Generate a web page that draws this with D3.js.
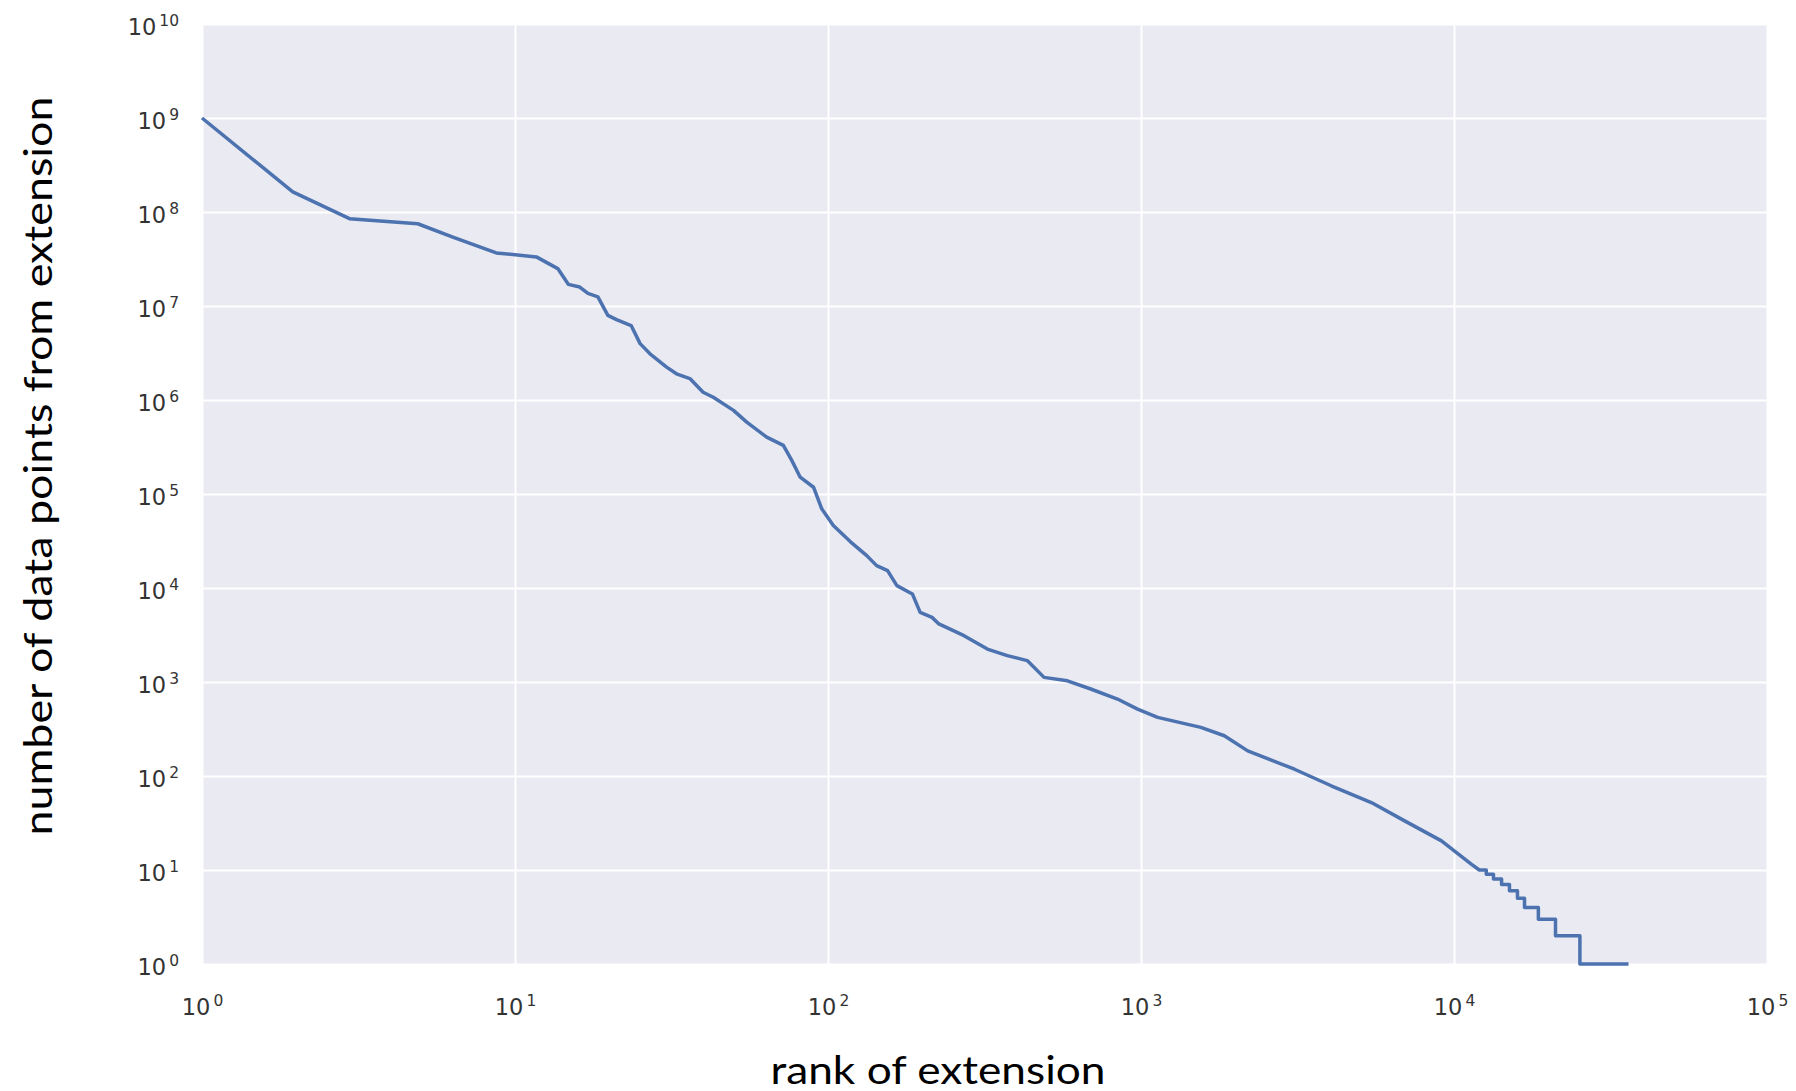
<!DOCTYPE html>
<html><head><meta charset="utf-8">
<script src="https://cdn.jsdelivr.net/npm/d3@7"></script>
<style>body{margin:0;background:#fff}</style></head>
<body>
<svg id="c" width="1796" height="1091"></svg>
<script>
// ---- data (rank of extension vs. number of data points) ----
const ranks = [1, 1.95, 2.96, 4.89, 6.33, 8.71, 11.7, 13.7, 14.8, 16.1, 17.1, 18.4, 19.8, 21.1, 23.5, 25.1, 27.0, 30.5,
  32.8, 36.2, 39.9, 43.0, 49.9, 55.0, 63.7, 72.0, 76.6, 81.5, 89.9, 95.5, 104, 118, 133, 143, 155, 166, 186, 197,
  215, 226, 272, 323, 374, 433, 490, 582, 691, 841, 975, 1130, 1553, 1846, 2193, 3093, 4053, 5445, 6955, 9120, 11380,
  12050, 12680, 12680, 13370, 13370, 14190, 14190, 15040, 15040, 15950, 15950, 16800, 16800, 18600, 18600, 21100,
  21100, 25250, 25250, 36100];
const counts = [1e9, 1.64e8, 8.5e7, 7.5e7, 5.4e7, 3.67e7, 3.33e7, 2.5e7, 1.7e7, 1.59e7, 1.36e7, 1.25e7, 7.96e6, 7.16e6,
  6.2e6, 3.98e6, 3.1e6, 2.24e6, 1.9e6, 1.69e6, 1.21e6, 1.07e6, 7.75e5, 5.82e5, 4.03e5, 3.29e5, 2.28e5, 1.51e5, 1.18e5,
  6.96e4, 4.62e4, 3.1e4, 2.21e4, 1.73e4, 1.53e4, 1.06e4, 8650, 5500, 4870, 4150, 3110, 2240, 1910, 1690, 1120, 1030,
  842, 659, 515, 420, 329, 268, 185, 118, 78.7, 52.2, 33.3, 20.4, 11.5,
  10, 10, 9, 9, 8, 8, 7, 7, 6, 6, 5, 5, 4, 4, 3, 3, 2, 2, 1, 1];
const xTickExponents = [0, 1, 2, 3, 4, 5];
const yTickExponents = [0, 1, 2, 3, 4, 5, 6, 7, 8, 9, 10];
const xTitle = "rank of extension";
const yTitle = "number of data points from extension";

// ---- layout ----
const L = 202, R = 1767, T = 24, B = 964;
const svg = d3.select("#c");
const x = d3.scaleLog().domain([1, 1e5]).range([L, R]);
const y = d3.scaleLog().domain([1, 1e10]).range([B, T]);

svg.append("rect").attr("x", L).attr("y", T).attr("width", R - L).attr("height", B - T).attr("fill", "#eaeaf2");

// gridlines
const gx = svg.append("g").attr("transform", `translate(0,${B})`)
  .call(d3.axisBottom(x).tickValues(xTickExponents.map(e => 10 ** e)).tickSize(-(B - T)).tickFormat(""));
gx.select(".domain").remove();
gx.selectAll("line").attr("stroke", "#fff").attr("stroke-width", 2);
const gy = svg.append("g").attr("transform", `translate(${L},0)`)
  .call(d3.axisLeft(y).tickValues(yTickExponents.map(e => 10 ** e)).tickSize(-(R - L)).tickFormat(""));
gy.select(".domain").remove();
gy.selectAll("line").attr("stroke", "#fff").attr("stroke-width", 2);

// tick labels with superscripts
function sup(textSel, d) {
  const e = Math.round(Math.log10(d));
  textSel.text(null);
  textSel.append("tspan").text("10");
  textSel.append("tspan").attr("dx", 3).attr("dy", -9).attr("font-size", 15.5).text(String(e));
}
const lx = svg.append("g").attr("transform", `translate(0,${B})`)
  .call(d3.axisBottom(x).tickValues(xTickExponents.map(e => 10 ** e)).tickSize(0).tickFormat(""));
lx.select(".domain").remove();
lx.selectAll(".tick text").attr("y", 51).attr("dy", null)
  .attr("font-family", "DejaVu Sans").attr("font-size", 22.5).attr("fill", "#333")
  .each(function (d) { sup(d3.select(this), d); });

const ly = svg.append("g").attr("transform", `translate(${L},0)`)
  .call(d3.axisLeft(y).tickValues(yTickExponents.map(e => 10 ** e)).tickSize(0).tickFormat(""));
ly.select(".domain").remove();
ly.selectAll(".tick text").attr("x", -23).attr("dy", null).attr("y", 10)
  .attr("font-family", "DejaVu Sans").attr("font-size", 22.5).attr("fill", "#333")
  .each(function (d) { sup(d3.select(this), d); });

// line
const data = ranks.map((r, i) => [r, counts[i]]);
svg.append("path").datum(data)
  .attr("fill", "none").attr("stroke", "#4c72b0").attr("stroke-width", 3.5).attr("stroke-linejoin", "round")
  .attr("d", d3.line().x(d => x(d[0])).y(d => y(d[1])));

// axis titles
svg.append("text").attr("x", 938).attr("y", 1084).attr("text-anchor", "middle")
  .attr("font-family", "Lato").attr("font-size", 38).attr("fill", "#000")
  .attr("textLength", 335).attr("lengthAdjust", "spacingAndGlyphs").text(xTitle);
svg.append("text").attr("transform", "translate(52,466) rotate(-90)").attr("text-anchor", "middle")
  .attr("font-family", "Lato").attr("font-size", 38).attr("fill", "#000")
  .attr("textLength", 739).attr("lengthAdjust", "spacingAndGlyphs").text(yTitle);
</script>
</body></html>
